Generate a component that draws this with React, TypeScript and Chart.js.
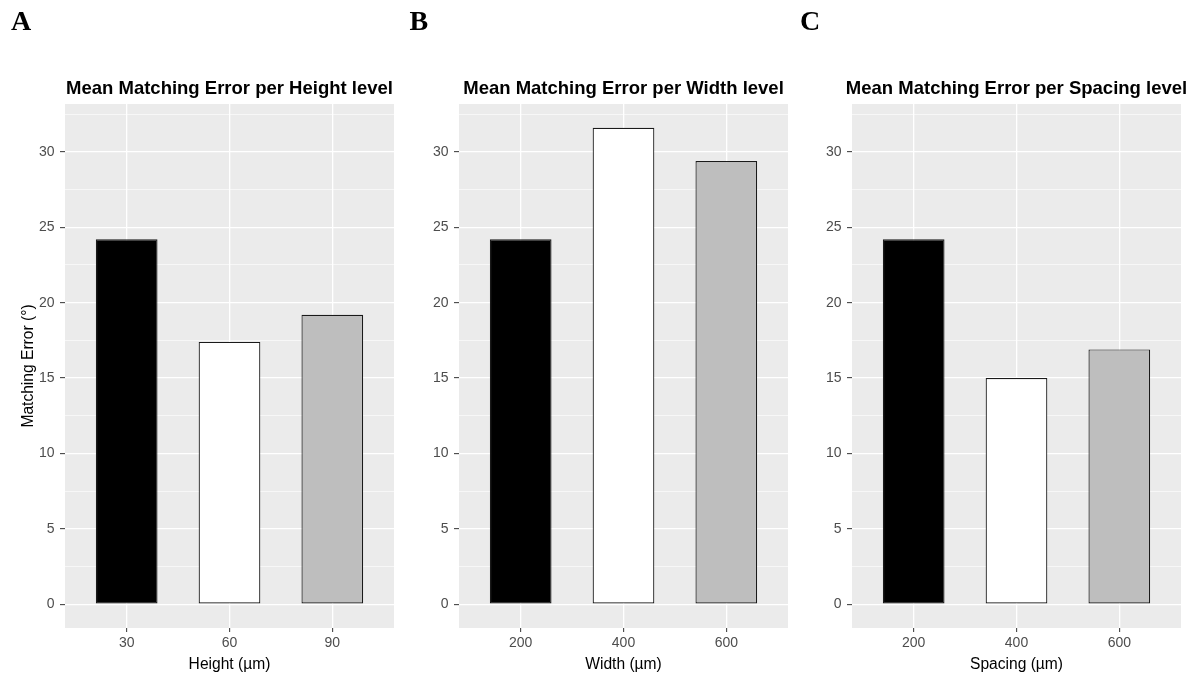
import React, { useEffect, useRef } from 'react';
import { Chart, registerables } from 'chart.js';

Chart.register(...registerables);

// ---- data ----
const heightLevels = ['30', '60', '90'];
const heightErrors = [24.2, 17.4, 19.2];
const widthLevels = ['200', '400', '600'];
const widthErrors = [24.2, 31.6, 29.4];
const spacingLevels = ['200', '400', '600'];
const spacingErrors = [24.2, 15.0, 16.9];
const barColors = ['#000000', '#FFFFFF', '#BEBEBE'];
const yMajorTicks = [0, 5, 10, 15, 20, 25, 30];
const yMinorTicks = [2.5, 7.5, 12.5, 17.5, 22.5, 27.5, 32.5];

// ggplot-like scale expansion
const allErrors = [...heightErrors, ...widthErrors, ...spacingErrors];
const yDataMax = Math.max(...allErrors);
const Y_EXPAND = 0.05 * yDataMax;
const Y_MIN = -Y_EXPAND;
const Y_MAX = yDataMax + Y_EXPAND;
const X_EXPAND = 0.6;

const SANS = '"Liberation Sans", Arial, sans-serif';
const SERIF = '"Liberation Serif", "Times New Roman", serif';

type PanelSpec = {
  letter: string;
  title: string;
  xTitle: string;
  yTitle?: string;
  levels: string[];
  values: number[];
  left: number;
  width: number;
  axisWidth: number;
  padRight: number;
  letterX: number;
};

const panels: PanelSpec[] = [
  {
    letter: 'A',
    title: 'Mean Matching Error per Height level',
    xTitle: 'Height (\u00b5m)',
    yTitle: 'Matching Error (\u00b0)',
    levels: heightLevels,
    values: heightErrors,
    left: 0,
    width: 400,
    axisWidth: 65,
    padRight: 6,
    letterX: 11,
  },
  {
    letter: 'B',
    title: 'Mean Matching Error per Width level',
    xTitle: 'Width (\u00b5m)',
    levels: widthLevels,
    values: widthErrors,
    left: 400,
    width: 393,
    axisWidth: 59,
    padRight: 5,
    letterX: 9.5,
  },
  {
    letter: 'C',
    title: 'Mean Matching Error per Spacing level',
    xTitle: 'Spacing (\u00b5m)',
    levels: spacingLevels,
    values: spacingErrors,
    left: 793,
    width: 401,
    axisWidth: 59,
    padRight: 13,
    letterX: 7,
  },
];

const isMajor = (v: number) => Math.abs(v % 5) < 1e-6;

function Panel({ spec }: { spec: PanelSpec }) {
  const ref = useRef<HTMLCanvasElement>(null);

  useEffect(() => {
    if (!ref.current) return;
    const decor = {
      id: 'panelDecor',
      beforeDraw(chart: any) {
        const { ctx, chartArea: a } = chart;
        ctx.save();
        ctx.fillStyle = '#EBEBEB';
        ctx.fillRect(a.left, a.top, a.right - a.left, a.bottom - a.top);
        ctx.restore();
      },
      afterDraw(chart: any) {
        const { ctx, chartArea: a } = chart;
        ctx.save();
        ctx.fillStyle = '#000000';
        ctx.textBaseline = 'alphabetic';
        ctx.textAlign = 'center';
        ctx.font = `bold 18.5px ${SANS}`;
        ctx.fillText(spec.title, (a.left + a.right) / 2, 94);
        ctx.textAlign = 'left';
        ctx.font = `bold 28px ${SERIF}`;
        ctx.fillText(spec.letter, spec.letterX, 30);
        ctx.restore();
      },
    };

    const chart = new Chart(ref.current, {
      type: 'bar',
      data: {
        datasets: [
          {
            data: spec.levels.map((_, i) => ({ x: i + 1, y: spec.values[i] })),
            backgroundColor: barColors,
            borderColor: '#1A1A1A',
            borderWidth: 1.2,
            borderSkipped: false,
            barPercentage: 0.6,
            categoryPercentage: 1,
          } as any,
        ],
      },
      options: {
        animation: false,
        responsive: false,
        devicePixelRatio: 1,
        layout: { padding: { top: 104, left: 0, right: spec.padRight, bottom: 0 } },
        plugins: {
          legend: { display: false },
          tooltip: { enabled: false },
          title: { display: false },
        },
        scales: {
          x: {
            type: 'linear',
            offset: false,
            min: 1 - X_EXPAND,
            max: spec.levels.length + X_EXPAND,
            afterBuildTicks: (s: any) => {
              s.ticks = spec.levels.map((_, i) => ({ value: i + 1 }));
            },
            afterFit: (s: any) => {
              s.height = 48;
            },
            border: { display: false },
            grid: {
              offset: false,
              color: '#FFFFFF',
              lineWidth: 1.3,
              tickLength: 4,
              tickColor: '#333333',
              tickWidth: 1,
            },
            ticks: {
              color: '#4D4D4D',
              font: { family: SANS, size: 14 },
              padding: 2.5,
              maxRotation: 0,
              autoSkip: false,
              callback: (v: any) => spec.levels[Math.round(Number(v)) - 1] ?? '',
            },
            title: {
              display: true,
              text: spec.xTitle,
              color: '#000000',
              font: { family: SANS, size: 15.6 },
              padding: { top: 0, bottom: 2.4 },
            },
          } as any,
          y: {
            type: 'linear',
            min: Y_MIN,
            max: Y_MAX,
            afterBuildTicks: (s: any) => {
              s.ticks = [...yMajorTicks, ...yMinorTicks]
                .sort((a, b) => a - b)
                .map((v) => ({ value: v }));
            },
            afterFit: (s: any) => {
              s.width = spec.axisWidth;
            },
            border: { display: false },
            grid: {
              color: '#FFFFFF',
              lineWidth: (c: any) => (c.tick && isMajor(c.tick.value) ? 1.3 : 0.6),
              tickLength: 5,
              tickColor: (c: any) =>
                c.tick && isMajor(c.tick.value) ? '#333333' : 'rgba(0,0,0,0)',
              tickWidth: 1,
            },
            ticks: {
              color: '#4D4D4D',
              font: { family: SANS, size: 14 },
              padding: 5.5,
              autoSkip: false,
              callback: (v: any) => (isMajor(Number(v)) ? String(v) : ''),
            },
            title: spec.yTitle
              ? {
                  display: true,
                  text: spec.yTitle,
                  color: '#000000',
                  font: { family: SANS, size: 15.6 },
                  padding: { top: 19.4, bottom: 0 },
                }
              : { display: false },
          } as any,
        },
      },
      plugins: [decor],
    });

    return () => chart.destroy();
  }, [spec]);

  return (
    <canvas
      ref={ref}
      width={spec.width}
      height={676}
      style={{ position: 'absolute', left: spec.left, top: 0, width: spec.width, height: 676 }}
    />
  );
}

export default function App() {
  return (
    <div
      style={{
        position: 'absolute',
        left: 0,
        top: 0,
        width: 1194,
        height: 676,
        background: '#FFFFFF',
        overflow: 'hidden',
      }}
    >
      {panels.map((p) => (
        <Panel key={p.letter} spec={p} />
      ))}
    </div>
  );
}
